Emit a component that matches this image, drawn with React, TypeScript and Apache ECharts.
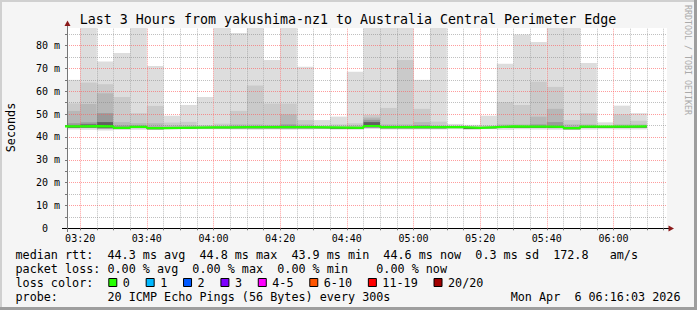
import React, { useEffect, useRef } from 'react';
import * as echarts from 'echarts';

const W = 697;
const H = 310;
const MONO = '"DejaVu Sans Mono", monospace';

const TITLE = 'Last 3 Hours from yakushima-nz1 to Australia Central Perimeter Edge';
const Y_AXIS_NAME = 'Seconds';
const WATERMARK = 'RRDTOOL / TOBI OETIKER';

// x values: minutes after midnight
const X_MIN = 196.05; // 03:16:03
const X_MAX = 376.05; // 06:16:03
const Y_MAX = 87.7;
const X_LABEL_VALUES = [200, 220, 240, 260, 280, 300, 320, 340, 360];
const X_LABELS = ['03:20', '03:40', '04:00', '04:20', '04:40', '05:00', '05:20', '05:40', '06:00'];
const X_MINOR_VALUES = [205, 210, 215, 225, 230, 235, 245, 250, 255, 265, 270, 275, 285, 290, 295, 305, 310, 315, 325, 330, 335, 345, 350, 355, 365, 370, 375];
const X_TICK_VALUES = [200, 205, 210, 215, 220, 225, 230, 235, 240, 245, 250, 255, 260, 265, 270, 275, 280, 285, 290, 295, 300, 305, 310, 315, 320, 325, 330, 335, 340, 345, 350, 355, 360, 365, 370, 375];

// start minute of each 5-minute step
const BAR_START = [195, 200, 205, 210, 215, 220, 225, 230, 235, 240, 245, 250, 255, 260, 265, 270, 275, 280, 285, 290, 295, 300, 305, 310, 315, 320, 325, 330, 335, 340, 345, 350, 355, 360, 365];
const STEP = 5;

// smoke bands (ms), outermost (lightest) to innermost (darkest)
const PING_MAX = [65.0, 95, 73.0, 76.8, 95, 71.1, 49.3, 54.0, 57.5, 95, 85.5, 95, 73.7, 95, 70.7, 47.4, 48.9, 68.5, 95, 95, 95, 65.0, 95, 45.7, 45.3, 49.3, 72.0, 84.8, 81.6, 95, 95, 72.4, 46.4, 53.7, 50.4];
const BAND2_TOP = [54.7, 63.8, 63.1, 57.5, 50.4, 53.6, 46.3, 46.6, 45.2, 45.8, 51.4, 62.5, 54.6, 54.6, 47.4, 45.0, 45.5, 46.0, 49.6, 52.7, 73.7, 52.3, 46.7, 45.0, 44.8, 45.0, 55.2, 54.0, 64.2, 61.9, 47.4, 50.4, 45.0, 49.9, 47.1];
const BAND3_TOP = [51.4, 54.4, 59.1, 46.5, 46.0, 46.0, 45.0, 45.0, 44.6, 44.8, 45.5, 45.5, 45.3, 49.9, 45.5, 44.5, 44.5, 45.0, 48.5, 45.5, 45.5, 46.5, 45.0, 44.5, 44.3, 44.5, 45.5, 45.5, 48.9, 52.3, 45.5, 45.5, 44.7, 45.5, 45.5];
const BAND4_TOP = [46.0, 46.4, 50.4, 45.0, 45.0, 44.5, 44.0, 44.1, 44.2, 44.2, 44.6, 44.6, 44.5, 45.5, 44.5, 44.2, 44.1, 44.0, 47.5, 44.5, 44.6, 45.2, 44.5, 44.3, 44.0, 44.3, 44.8, 44.8, 45.5, 46.5, 44.5, 44.8, 44.5, 44.8, 44.8];
const BAND5_TOP = [45.0, 45.5, 46.5, 44.0, 44.4, 43.9, 44.0, 44.1, 44.2, 44.2, 44.3, 44.3, 44.3, 44.6, 44.3, 44.2, 44.1, 44.0, 46.5, 44.3, 44.3, 44.5, 44.3, 44.3, 44.0, 44.3, 44.6, 44.5, 44.5, 44.8, 43.9, 44.5, 44.5, 44.5, 44.6];
const PING_MIN = [43.3, 43.2, 42.8, 43.0, 43.2, 43.0, 43.3, 43.4, 43.4, 43.4, 43.3, 43.2, 43.3, 43.2, 43.3, 43.4, 43.2, 43.1, 43.5, 43.3, 43.3, 43.3, 43.3, 43.4, 43.1, 43.4, 43.2, 43.4, 43.3, 43.2, 43.0, 43.3, 43.4, 43.3, 43.3];
const INNER_LOW = [44.0, 44.1, 43.8, 43.5, 43.9, 43.4, 43.6, 43.7, 43.8, 43.8, 43.8, 43.8, 43.8, 43.8, 43.8, 43.8, 43.6, 43.5, 44.2, 43.8, 43.8, 43.8, 43.8, 43.9, 43.5, 43.8, 44.0, 44.0, 44.0, 43.9, 43.4, 44.0, 44.0, 44.0, 44.1];
const MEDIAN = [44.6, 44.7, 44.6, 44.0, 44.4, 43.9, 44.0, 44.1, 44.2, 44.2, 44.3, 44.3, 44.3, 44.3, 44.3, 44.2, 44.1, 44.0, 44.8, 44.3, 44.3, 44.3, 44.3, 44.3, 44.0, 44.3, 44.6, 44.5, 44.5, 44.4, 43.9, 44.5, 44.5, 44.5, 44.6];
const BAND_COLORS = ['#dddddd', '#cacaca', '#b7b7b7', '#9a9a9a', '#606060'];

const RTT_STATS = ['44.3', '44.8', '43.9', '44.6'];
const RTT_SD = '0.3';
const AM_PER_S = '172.8';
const LOSS_STATS = ['0.00', '0.00', '0.00', '0.00'];
const LOSS_LABELS = ['0', '1', '2', '3', '4-5', '6-10', '11-19', '20/20'];
const LOSS_COLORS = ['#26ff00', '#00b8ff', '#0059ff', '#7e00ff', '#ff00ff', '#ff5500', '#ff0000', '#a10000'];
const PROBE_TEXT = '20 ICMP Echo Pings (56 Bytes) every 300s';
const DATE_TEXT = 'Mon Apr  6 06:16:03 2026';

const GREEN = '#26ff00';
const MAJOR_GRID = 'rgba(255,90,90,0.6)';
const MINOR_GRID = 'rgba(130,130,130,0.5)';

const GRID = { left: 67, top: 28, width: 600, height: 200.3 };
const CHAR_W = 7.07;
const LEG_FONT = 11.75;

export default function App() {
  const ref = useRef<HTMLDivElement>(null);

  useEffect(() => {
    document.body.style.margin = '0';
    if (!ref.current) return;
    const chart = echarts.init(ref.current, undefined, { renderer: 'svg' });

    const row1 =
      'median rtt:  ' +
      `${RTT_STATS[0]} ms avg  ${RTT_STATS[1]} ms max  ${RTT_STATS[2]} ms min  ${RTT_STATS[3]} ms now  ` +
      `${RTT_SD} ms sd  ${AM_PER_S}   am/s`;
    const row2 =
      `packet loss: ${LOSS_STATS[0]} % avg  ${LOSS_STATS[1]} % max  ${LOSS_STATS[2]} % min    ${LOSS_STATS[3]} % now`;
    const row4 = 'probe:       ' + PROBE_TEXT;

    const legFont = `${LEG_FONT}px ${MONO}`;
    const legendText = (text: string, x: number, y: number, align = 'left') => ({
      type: 'text',
      x,
      y,
      z: 10,
      style: { text, font: legFont, fill: '#000', textAlign: align, textVerticalAlign: 'middle' },
    });

    const lossItems: any[] = [];
    let lx = 108.3;
    LOSS_LABELS.forEach((lab, i) => {
      lossItems.push({
        type: 'rect',
        z: 10,
        shape: { x: lx + 0.5, y: 278.5, width: 8, height: 8 },
        style: { fill: LOSS_COLORS[i], stroke: '#000', lineWidth: 1 },
      });
      lossItems.push(legendText(lab, lx + 14.5, 282.5));
      lx = lx + 15 + lab.length * CHAR_W + 15.3;
    });

    const graphics: any[] = [
      // 3D frame
      { type: 'rect', z: 20, shape: { x: 0, y: 0, width: W, height: 2 }, style: { fill: '#d0d0d0' } },
      { type: 'rect', z: 20, shape: { x: 0, y: 0, width: 2, height: H }, style: { fill: '#d0d0d0' } },
      { type: 'rect', z: 21, shape: { x: W - 3, y: 0, width: 3, height: H }, style: { fill: '#9e9e9e' } },
      { type: 'rect', z: 21, shape: { x: 0, y: H - 3, width: W, height: 3 }, style: { fill: '#9e9e9e' } },
      {
        type: 'text',
        x: 348,
        y: 19,
        z: 10,
        style: { text: TITLE, font: `13.3px ${MONO}`, fill: '#000', textAlign: 'center', textVerticalAlign: 'middle' },
      },
      {
        type: 'text',
        x: 10.5,
        y: 127.5,
        rotation: Math.PI / 2,
        z: 10,
        style: { text: Y_AXIS_NAME, font: legFont, fill: '#000', textAlign: 'center', textVerticalAlign: 'middle' },
      },
      {
        type: 'text',
        x: 687.5,
        y: 5,
        rotation: -Math.PI / 2,
        z: 10,
        style: { text: WATERMARK, font: `8.3px ${MONO}`, fill: '#aaaaaa', textAlign: 'left', textVerticalAlign: 'middle' },
      },
      // axis extensions and arrows
      { type: 'line', z: 10, shape: { x1: 67.5, y1: 28, x2: 67.5, y2: 25 }, style: { stroke: '#777', lineWidth: 1 } },
      { type: 'line', z: 10, shape: { x1: 67.5, y1: 228, x2: 67.5, y2: 232 }, style: { stroke: '#777', lineWidth: 1 } },
      { type: 'line', z: 10, shape: { x1: 62, y1: 228.5, x2: 67, y2: 228.5 }, style: { stroke: '#000', lineWidth: 1 } },
      { type: 'line', z: 10, shape: { x1: 667, y1: 228.5, x2: 669, y2: 228.5 }, style: { stroke: '#000', lineWidth: 1 } },
      { type: 'polygon', z: 11, shape: { points: [[64.5, 26], [67.5, 20.5], [70.5, 26]] }, style: { fill: '#8b1a1a' } },
      { type: 'polygon', z: 11, shape: { points: [[668.5, 225.5], [674, 228.5], [668.5, 231.5]] }, style: { fill: '#8b1a1a' } },
      legendText(row1, 15.5, 254.5),
      legendText(row2, 15.5, 268.5),
      legendText('loss color:', 15.5, 282.5),
      ...lossItems,
      legendText(row4, 15.5, 296.5),
      legendText(DATE_TEXT, 680.5, 296.5, 'right'),
    ];

    const bandTops = [PING_MAX, BAND2_TOP, BAND3_TOP, BAND4_TOP, BAND5_TOP];
    const smokeData = BAR_START.map((s, i) => [s, PING_MAX[i]]);
    const medianPoints = [[BAR_START[0], MEDIAN[0]], ...BAR_START.map((s, i) => [s + STEP, MEDIAN[i]])];

    const gridSeries = (values: number[], color: string) => ({
      type: 'line',
      z: 3,
      silent: true,
      data: [],
      markLine: {
        silent: true,
        symbol: ['none', 'none'],
        label: { show: false },
        emphasis: { disabled: true },
        lineStyle: { type: [1, 1], width: 1, color },
        data: values.map((v) => ({ xAxis: v })),
      },
    });

    chart.setOption({
      animation: false,
      backgroundColor: '#f5f5f5',
      textStyle: { fontFamily: MONO },
      grid: {
        left: GRID.left,
        top: GRID.top,
        width: GRID.width,
        height: GRID.height,
        show: true,
        backgroundColor: '#ffffff',
        borderWidth: 0,
        containLabel: false,
      },
      xAxis: {
        type: 'value',
        min: X_MIN,
        max: X_MAX,
        z: 3,
        axisLine: { show: true, onZero: false, lineStyle: { color: '#000', width: 1 } },
        axisTick: { show: true, customValues: X_TICK_VALUES, length: 2, lineStyle: { color: '#777' } },
        axisLabel: {
          show: true,
          customValues: X_LABEL_VALUES,
          margin: 5,
          color: '#000',
          fontSize: 10,
          fontFamily: MONO,
          formatter: (v: number) => {
            const idx = X_LABEL_VALUES.findIndex((t) => Math.abs(t - v) < 0.01);
            return idx >= 0 ? X_LABELS[idx] : '';
          },
        },
        splitLine: { show: false },
      },
      yAxis: {
        type: 'value',
        min: 0,
        max: Y_MAX,
        interval: 5,
        z: 3,
        axisLine: { show: true, lineStyle: { color: '#777', width: 1 } },
        axisTick: { show: true, length: 2, lineStyle: { color: '#777' } },
        axisLabel: {
          show: true,
          margin: 7,
          color: '#000',
          fontSize: 10,
          fontFamily: MONO,
          showMaxLabel: false,
          formatter: (v: number) => {
            if (Math.abs(v % 10) > 0.001) return '';
            return v === 0 ? '0\u00a0\u00a0' : `${v} m`;
          },
        },
        splitLine: {
          show: true,
          showMaxLine: false,
          lineStyle: { color: [MAJOR_GRID, MINOR_GRID], type: [1, 1], width: 1 },
        },
      },
      series: [
        {
          type: 'custom',
          z: 2,
          silent: true,
          data: smokeData,
          encode: { x: 0, y: 1 },
          renderItem: (params: any, api: any) => {
            const i = params.dataIndex;
            const cs = params.coordSys;
            let x0 = api.coord([BAR_START[i], 0])[0];
            let x1 = api.coord([BAR_START[i] + STEP, 0])[0];
            x0 = Math.max(x0, cs.x);
            x1 = Math.min(x1, cs.x + cs.width);
            const children = bandTops.map((tops, k) => {
              const bottom = k === 0 ? PING_MIN[i] : INNER_LOW[i];
              const yTop = Math.max(api.coord([0, tops[i]])[1], cs.y);
              const yBot = api.coord([0, bottom])[1];
              return {
                type: 'rect',
                shape: { x: x0, y: yTop, width: Math.max(0, x1 - x0), height: Math.max(0, yBot - yTop) },
                style: { fill: BAND_COLORS[k] },
              };
            });
            return { type: 'group', children };
          },
        },
        gridSeries(X_MINOR_VALUES, MINOR_GRID),
        gridSeries(X_LABEL_VALUES, MAJOR_GRID),
        {
          type: 'line',
          z: 5,
          silent: true,
          step: 'start',
          symbol: 'none',
          data: medianPoints,
          lineStyle: { color: GREEN, width: 2.2 },
        },
      ],
      graphic: graphics,
    });

    return () => chart.dispose();
  }, []);

  return <div ref={ref} style={{ position: 'absolute', left: 0, top: 0, width: W, height: H }} />;
}
